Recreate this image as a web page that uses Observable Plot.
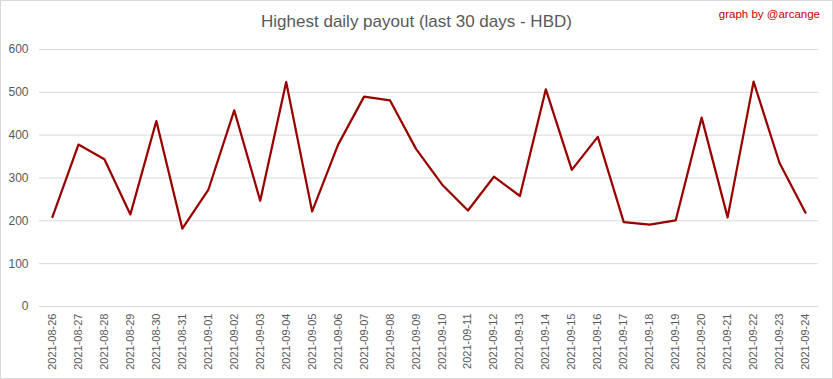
<!DOCTYPE html>
<html>
<head>
<meta charset="utf-8">
<script src="https://cdn.jsdelivr.net/npm/d3@7"></script>
<script src="https://cdn.jsdelivr.net/npm/@observablehq/plot@0.6"></script>
<style>
  html, body { margin: 0; padding: 0; background: #fff; }
  #wrap { position: relative; width: 833px; height: 379px; overflow: hidden; font-family: "Liberation Sans", Arial, sans-serif; }
  #wrap svg { position: absolute; left: 0; top: 0; }
  #border { position: absolute; left: 0; top: 0; width: 833px; height: 379px; box-sizing: border-box; border: 1px solid #d9d9d9; pointer-events: none; }
  #title { position: absolute; left: 0; width: 833px; top: 12px; text-align: center; font-size: 17px; color: #595959; white-space: nowrap; }
  #credit { position: absolute; right: 13px; top: 8px; font-size: 11.5px; color: #c00000; white-space: nowrap; }
</style>
</head>
<body>
<div id="wrap">
  <div id="title">Highest daily payout (last 30 days - HBD)</div>
  <div id="credit">graph by @arcange</div>
  <div id="border"></div>
</div>
<script>
const dates = [
  "2021-08-26","2021-08-27","2021-08-28","2021-08-29","2021-08-30","2021-08-31",
  "2021-09-01","2021-09-02","2021-09-03","2021-09-04","2021-09-05","2021-09-06",
  "2021-09-07","2021-09-08","2021-09-09","2021-09-10","2021-09-11","2021-09-12",
  "2021-09-13","2021-09-14","2021-09-15","2021-09-16","2021-09-17","2021-09-18",
  "2021-09-19","2021-09-20","2021-09-21","2021-09-22","2021-09-23","2021-09-24"
];
const payouts = [
  209, 378, 344, 215, 433, 182,
  272, 458, 247, 524, 222, 378,
  490, 481, 368, 285, 224, 303,
  258, 507, 319, 396, 197, 191,
  201, 441, 208, 525, 335, 219
];
const yTicks = [0, 100, 200, 300, 400, 500, 600];

const data = dates.map((d, i) => ({date: d, value: payouts[i]}));

const chart = Plot.plot({
  width: 833,
  height: 379,
  marginTop: 49,
  marginBottom: 73,
  marginLeft: 39,
  marginRight: 15,
  style: {background: "transparent", fontFamily: "'Liberation Sans', Arial, sans-serif", color: "#595959"},
  x: {type: "point", domain: dates, padding: 0.5, round: false, label: null},
  y: {domain: [0, 600], label: null},
  marks: [
    Plot.gridY(yTicks, {stroke: "#d9d9d9", strokeOpacity: 1, strokeWidth: 1}),
    Plot.axisY(yTicks, {tickSize: 0, tickPadding: 11, fontSize: 12, label: null, fill: "#595959"}),
    Plot.axisX({tickSize: 0, tickRotate: -90, tickPadding: 7, fontSize: 11, label: null, fill: "#595959"}),
    Plot.line(data, {x: "date", y: "value", stroke: "#990000", strokeWidth: 2.25})
  ]
});
document.getElementById("wrap").insertBefore(chart, document.getElementById("title"));
</script>
</body>
</html>
